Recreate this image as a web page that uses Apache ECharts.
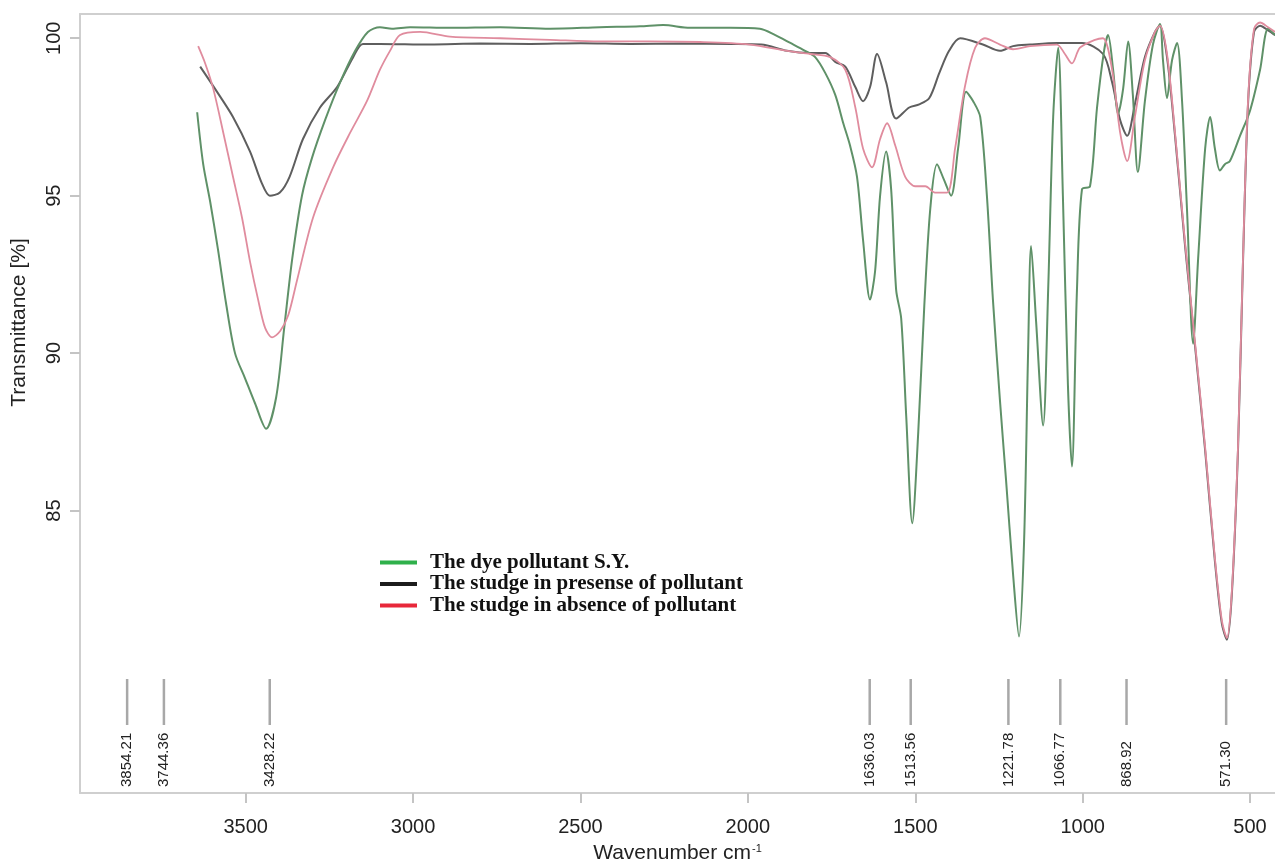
<!DOCTYPE html>
<html>
<head>
<meta charset="utf-8">
<script src="https://cdn.jsdelivr.net/npm/echarts@6/dist/echarts.min.js"></script>
<style>
html,body{margin:0;padding:0;background:#fff;}
#chart{width:1275px;height:864px;}
</style>
</head>
<body>
<div id="chart"></div>
<script>
// ---- Data ----
const seriesNames = [
  'The dye pollutant S.Y.',
  'The studge in presense of pollutant',
  'The studge in absence of pollutant'
];

// Dye pollutant S.Y.
const dyeWavenumber = [3645,3627,3606,3583,3559,3532,3502,3472,3439,3409,3385,3361,3332,3302,3263,3218,3173,3135,3099,3063,3009,2890,2740,2591,2442,2322,2253,2173,2053,1964,1918,1873,1829,1799,1769,1739,1715,1695,1674,1656,1635,1620,1605,1587,1572,1557,1542,1527,1509,1491,1473,1455,1435,1414,1393,1372,1348,1327,1306,1286,1268,1247,1229,1208,1190,1175,1163,1154,1139,1118,1103,1088,1073,1059,1044,1032,1017,1002,978,957,936,924,909,894,879,864,850,835,814,790,769,760,748,733,718,703,688,670,655,634,619,605,590,575,560,530,500,470,446,425];
const dyeTransmittance = [97.65,96.0,94.8,93.3,91.6,90.0,89.2,88.4,87.6,88.6,90.8,93.0,95.0,96.2,97.4,98.6,99.6,100.2,100.35,100.3,100.35,100.33,100.35,100.3,100.35,100.38,100.42,100.33,100.33,100.3,100.1,99.85,99.6,99.4,98.9,98.2,97.3,96.6,95.6,93.6,91.7,92.6,95.0,96.4,95.2,92.0,91.1,88.0,84.6,87.5,91.5,94.6,96.0,95.5,95.0,96.5,98.3,98.0,97.5,95.0,91.7,88.5,86.0,83.0,81.0,84.0,90.0,93.4,91.0,87.7,92.0,97.5,99.7,95.0,89.0,86.4,92.0,95.2,95.3,97.8,99.6,100.1,99.0,97.6,98.4,99.9,98.2,95.75,98.0,99.8,100.45,99.3,98.1,99.3,99.85,98.0,94.5,90.3,93.0,96.5,97.5,96.5,95.8,96.0,96.1,96.9,97.7,99.0,100.3,100.1];

// Sludge in presence of pollutant
const presenceWavenumber = [3636,3592,3538,3487,3452,3428,3398,3369,3329,3278,3227,3179,3150,3099,2950,2800,2650,2500,2350,2200,2050,1960,1883,1814,1769,1739,1709,1679,1656,1635,1614,1587,1557,1518,1488,1458,1428,1399,1366,1298,1247,1208,1157,1077,1002,939,912,888,867,844,814,784,769,748,724,694,664,634,605,584,569,554,536,521,506,488,470,446,425];
const presenceTransmittance = [99.1,98.4,97.5,96.4,95.4,95.0,95.1,95.6,96.8,97.8,98.45,99.4,99.82,99.82,99.8,99.83,99.82,99.84,99.82,99.83,99.82,99.8,99.6,99.53,99.53,99.25,99.1,98.45,98.0,98.45,99.5,98.6,97.45,97.8,97.9,98.1,98.9,99.6,100.0,99.8,99.6,99.75,99.8,99.85,99.85,99.5,98.6,97.4,96.9,97.9,99.4,100.2,100.4,99.4,96.9,93.4,90.2,86.9,83.4,81.4,80.9,82.4,86.9,92.9,97.9,100.2,100.4,100.25,100.1];

// Sludge in absence of pollutant
const absenceWavenumber = [3642,3621,3597,3567,3538,3511,3487,3463,3442,3421,3397,3373,3347,3299,3239,3188,3138,3099,3069,3039,2979,2890,2740,2591,2442,2292,2143,1994,1883,1814,1754,1709,1679,1656,1629,1605,1584,1560,1530,1500,1470,1441,1405,1381,1351,1321,1292,1247,1208,1157,1077,1053,1032,1008,963,939,912,888,867,844,814,784,769,748,724,694,664,634,605,584,569,554,536,521,506,488,470,446,425];
const absenceTransmittance = [99.75,99.2,98.4,97.0,95.6,94.3,92.9,91.7,90.8,90.5,90.7,91.2,92.3,94.3,95.9,97.0,98.0,99.0,99.6,100.1,100.2,100.05,100.0,99.95,99.9,99.9,99.88,99.8,99.6,99.5,99.4,99.0,97.8,96.5,95.9,96.8,97.3,96.6,95.6,95.3,95.3,95.1,95.1,96.5,98.5,99.7,100.0,99.8,99.65,99.75,99.8,99.5,99.2,99.7,99.95,100.0,99.0,97.0,96.1,97.5,99.3,100.2,100.4,99.5,97.0,93.5,90.3,87.0,83.5,81.5,80.95,82.5,87.0,93.0,98.0,100.3,100.5,100.35,100.2];

// Peak annotations
const peakWavenumbers = [3854.21, 3744.36, 3428.22, 1636.03, 1513.56, 1221.78, 1066.77, 868.92, 571.30];
const peakLabels = ['3854.21','3744.36','3428.22','1636.03','1513.56','1221.78','1066.77','868.92','571.30'];

// Axis ticks
const xTickValues = [3500, 3000, 2500, 2000, 1500, 1000, 500];
const yTickValues = [85, 90, 95, 100];

// ---- Chart ----
const lineColors = ['#5f9168', '#5e5e5e', '#e08c9e'];
const legendColors = ['#2fb04b', '#1c1c1c', '#e8283a'];

function zip(xs, ys){ return xs.map((x, i) => [x, ys[i]]); }

const chart = echarts.init(document.getElementById('chart'), null, {renderer: 'canvas'});

const axisGrey = '#cfcfcf';
const sansFont = '"Liberation Sans", Arial, Helvetica, sans-serif';
const xMin = 425.4, xMax = 3995;

const option = {
  animation: false,
  backgroundColor: '#ffffff',
  grid: {left: 80, right: 0, top: 14, bottom: 71, show: false, containLabel: false, outerBoundsMode: 'none'},
  legend: {
    orient: 'vertical',
    left: 375,
    top: 547,
    itemWidth: 37,
    itemHeight: 4,
    itemGap: 0.5,
    icon: 'rect',
    textStyle: {
      fontFamily: '"Liberation Serif", "Times New Roman", serif',
      fontWeight: 'bold',
      fontSize: 21,
      color: '#111',
      padding: [0, 0, 0, 8]
    },
    data: [
      {name: seriesNames[0], itemStyle: {color: legendColors[0]}},
      {name: seriesNames[1], itemStyle: {color: legendColors[1]}},
      {name: seriesNames[2], itemStyle: {color: legendColors[2]}}
    ],
    selectedMode: false
  },
  xAxis: [
    {
      type: 'value',
      inverse: true,
      min: xMin,
      max: xMax,
      name: '{a|Wavenumber cm}{s|-1}',
      nameLocation: 'middle',
      nameGap: 50,
      nameTextStyle: {
        rich: {
          a: {fontFamily: sansFont, fontSize: 21, color: '#222'},
          s: {fontFamily: sansFont, fontSize: 11, color: '#222', verticalAlign: 'top', padding: [0, 0, 8, 1]}
        }
      },
      axisLine: {show: true, lineStyle: {color: axisGrey, width: 2}},
      axisTick: {show: true, length: 10, lineStyle: {color: '#c4c4c4', width: 2}, customValues: xTickValues},
      axisLabel: {
        customValues: xTickValues, fontFamily: sansFont, fontSize: 20, color: '#222', margin: 24,
        formatter: v => String(v)
      },
      splitLine: {show: false}
    },
    {
      type: 'value',
      position: 'top',
      inverse: true,
      min: xMin,
      max: xMax,
      axisLine: {show: true, lineStyle: {color: axisGrey, width: 2}},
      axisTick: {show: false},
      axisLabel: {show: false},
      splitLine: {show: false}
    }
  ],
  yAxis: {
    type: 'value',
    min: 76.03,
    max: 100.77,
    name: 'Transmittance [%]',
    nameLocation: 'middle',
    nameGap: 50,
    nameTextStyle: {fontFamily: sansFont, fontSize: 21, color: '#222', padding: [0, 0, 0, 162]},
    axisLine: {show: true, lineStyle: {color: axisGrey, width: 2}},
    axisTick: {show: true, length: 10, lineStyle: {color: '#c4c4c4', width: 2}, customValues: yTickValues},
    axisLabel: {customValues: yTickValues, rotate: 90, fontFamily: sansFont, fontSize: 20, color: '#222', margin: 16},
    splitLine: {show: false}
  },
  series: [
    {
      name: seriesNames[1], type: 'line', data: zip(presenceWavenumber, presenceTransmittance),
      showSymbol: false, smooth: 0.3, lineStyle: {color: lineColors[1], width: 2}, itemStyle: {color: lineColors[1]}, z: 2
    },
    {
      name: seriesNames[0], type: 'line', data: zip(dyeWavenumber, dyeTransmittance),
      showSymbol: false, smooth: 0.3, lineStyle: {color: lineColors[0], width: 2}, itemStyle: {color: lineColors[0]}, z: 3
    },
    {
      name: seriesNames[2], type: 'line', data: zip(absenceWavenumber, absenceTransmittance),
      showSymbol: false, smooth: 0.3, lineStyle: {color: lineColors[2], width: 1.8}, itemStyle: {color: lineColors[2]}, z: 4
    },
    {
      name: 'peaks', type: 'custom', silent: true, z: 5,
      data: peakWavenumbers.map((w, i) => [w, i]),
      encode: {x: 0},
      renderItem: function (params, api) {
        const cs = params.coordSys;
        const bottom = cs.y + cs.height;
        const px = api.coord([api.value(0), 90])[0];
        const label = peakLabels[params.dataIndex];
        return {
          type: 'group',
          children: [
            {
              type: 'line',
              shape: {x1: px, y1: bottom - 114, x2: px, y2: bottom - 68},
              style: {stroke: '#a8a8a8', lineWidth: 2.5}
            },
            {
              type: 'text',
              x: px, y: bottom - 6,
              rotation: Math.PI / 2,
              style: {
                text: label, fontFamily: sansFont, fontSize: 15, fill: '#222',
                align: 'left', verticalAlign: 'middle'
              }
            }
          ]
        };
      }
    }
  ]
};

chart.setOption(option);
</script>
</body>
</html>
